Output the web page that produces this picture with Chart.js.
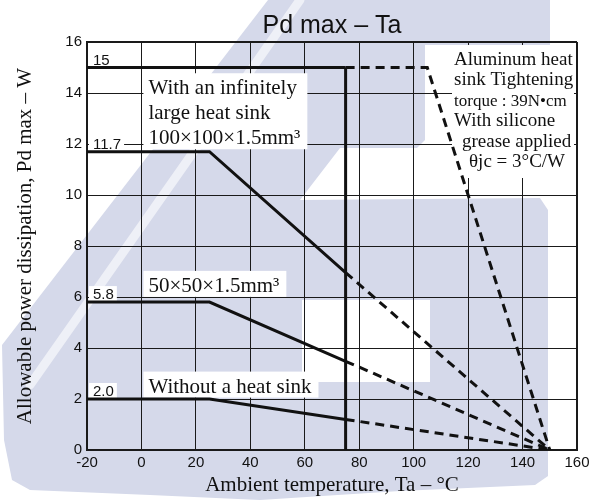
<!DOCTYPE html>
<html>
<head>
<meta charset="utf-8">
<title>Pd max – Ta</title>
<script src="https://cdn.jsdelivr.net/npm/chart.js@4.4.0/dist/chart.umd.min.js"></script>
<style>
  html, body { margin: 0; padding: 0; background: #fff; }
  canvas { display: block; }
</style>
</head>
<body>
<canvas id="chart" width="597" height="503"></canvas>
<script>
// Pd max vs ambient temperature
const chartTitle = "Pd max – Ta";
const xTicks = [-20, 0, 20, 40, 60, 80, 100, 120, 140, 160];
const yTicks = [0, 2, 4, 6, 8, 10, 12, 14, 16];

// knee, case limit and zero point shared by the finite heat sink curves
const curveTemps = [-20, 25, 75, 150];
const sink100Pd = [11.7, 11.7, 6.96, 0];
const sink50Pd = [5.8, 5.8, 3.48, 0];
const noSinkPd = [2.0, 2.0, 1.2, 0];

const infiniteTemps = [-20, 75, 105, 150];
const infinitePd = [15, 15, 15, 0];

const caseLimitTemps = [75, 75];
const caseLimitPd = [0, 15];

const ratingValues = [15, 11.7, 5.8, 2.0];
const ratingText = ["15", "11.7", "5.8", "2.0"];

const curveNames = [
  ["With an infinitely", "large heat sink", "100×100×1.5mm³"],
  ["50×50×1.5mm³"],
  ["Without a heat sink"],
];
// cap-top of the first line of each name, in W
const curveNameTops = [14.5, 6.75, 2.8];

const conditionLines = [
  "Aluminum heat",
  "sink Tightening",
  "torque : 39N•cm",
  "With silicone",
  "grease applied",
  "θjc = 3°C/W",
];
const conditionIndent = [0, 0, 0, 0, 8, 15];

const INK = "#111";
const SANS = "'Liberation Sans', Arial, sans-serif";
const SERIF = "'Liberation Serif', 'Times New Roman', serif";

function curve(label, temps, pd, dashFrom) {

  return {
    label,
    data: temps.map((t, i) => ({ x: t, y: pd[i] })),
    borderColor: INK,
    borderWidth: 3,
    borderCapStyle: "butt",
    pointRadius: 0,
    tension: 0,
    fill: false,
    segment: {
      borderDash: c => (c.p0DataIndex >= dashFrom ? [9, 6] : undefined),
    },
  };
}

// faint logo printed behind the graph, in 597x503 page units
const markOutline = [
  [268, 0], [550, 0], [550, 45], [425, 45], [425, 140], [417, 148], [340, 148],
  [300, 200], [540, 198], [548, 210], [548, 476], [535, 485], [400, 491],
  [260, 500], [150, 495], [30, 490], [12, 480], [4, 440], [2, 345],
];

const watermark = {
  id: "watermark",
  beforeDraw(chart) {

    const { ctx, width, height } = chart;
    const sx = width / 597;
    const sy = height / 503;
    ctx.save();
    ctx.fillStyle = "#fff";
    ctx.fillRect(0, 0, width, height);

    ctx.fillStyle = "#d5d9ea";
    ctx.beginPath();
    markOutline.forEach(([px, py], i) => {
      if (i === 0) ctx.moveTo(px * sx, py * sy);
      else ctx.lineTo(px * sx, py * sy);
    });
    ctx.closePath();
    ctx.fill();

    ctx.fillStyle = "#fff";
    ctx.fillRect(302 * sx, 300 * sy, 128 * sx, 82 * sy);

    ctx.strokeStyle = "rgba(255, 255, 255, 0.6)";
    ctx.lineWidth = 9;
    ctx.lineCap = "round";
    ctx.beginPath();
    ctx.moveTo(30 * sx, 385 * sy);
    ctx.lineTo(300 * sx, 0);
    ctx.stroke();
    ctx.restore();
  },
};

// title centred over the plot rather than the whole canvas
const plotTitle = {
  id: "plotTitle",
  afterDraw(chart) {

    const { ctx, chartArea } = chart;
    ctx.save();
    ctx.font = `25px ${SANS}`;
    ctx.fillStyle = INK;
    ctx.textAlign = "center";
    ctx.textBaseline = "alphabetic";
    ctx.fillText(chartTitle, (chartArea.left + chartArea.right) / 2, 33);
    ctx.restore();
  },
};

const notes = {
  id: "notes",
  beforeDatasetsDraw(chart) {

    const { ctx, chartArea, scales: { x, y } } = chart;
    ctx.save();
    ctx.textBaseline = "alphabetic";

    // rated Pd written just above each curve at the left edge
    ctx.font = `15px ${SANS}`;
    ctx.textAlign = "left";
    ratingValues.forEach((v, i) => {
      const left = x.getPixelForValue(-20) + 2;
      const base = y.getPixelForValue(v) - 3;
      const w = ctx.measureText(ratingText[i]).width;
      ctx.fillStyle = "#fff";
      ctx.fillRect(left, base - 13, w + 7, 15);
      ctx.fillStyle = INK;
      ctx.fillText(ratingText[i], left + 4, base);
    });

    // curve names in white boxes
    ctx.font = `21px ${SERIF}`;
    curveNames.forEach((lines, i) => {
      const left = x.getPixelForValue(0) + 2;
      const capTop = y.getPixelForValue(curveNameTops[i]);
      const w = Math.max(...lines.map(l => ctx.measureText(l).width));
      const lastBase = capTop + 14 + (lines.length - 1) * 25;
      ctx.fillStyle = "#fff";
      ctx.fillRect(left, capTop - 7, w + 12, lastBase + 5 - (capTop - 7));
      ctx.fillStyle = INK;
      lines.forEach((l, j) => ctx.fillText(l, left + 5, capTop + 14 + j * 25));
    });

    // mounting conditions box, top right
    const boxW = 122;
    const boxLeft = chartArea.right - boxW - 3;
    const boxTop = chartArea.top + 3;
    ctx.fillStyle = "#fff";
    ctx.fillRect(boxLeft, boxTop, boxW, 133);
    ctx.fillStyle = INK;
    ctx.textAlign = "left";
    conditionLines.forEach((l, j) => {
      ctx.font = j === 2 ? `17px ${SERIF}` : `19px ${SERIF}`;
      ctx.fillText(l, boxLeft + 2 + conditionIndent[j], boxTop + 20 + j * 20.4);
    });
    ctx.restore();
  },
};

const gridOpts = edges => ({
  color: "#1a1a1a",
  lineWidth: c => (edges.includes(c.tick?.value) ? 2 : 1),
  drawTicks: false,
});

new Chart(document.getElementById("chart"), {
  type: "line",
  data: {
    datasets: [
      curve("With an infinitely large heat sink", infiniteTemps, infinitePd, 1),
      curve("Case temperature limit", caseLimitTemps, caseLimitPd, 99),
      curve("100×100×1.5mm³", curveTemps, sink100Pd, 2),
      curve("50×50×1.5mm³", curveTemps, sink50Pd, 2),
      curve("Without a heat sink", curveTemps, noSinkPd, 2),
    ],
  },
  options: {
    responsive: false,
    animation: false,
    devicePixelRatio: 1,
    layout: { padding: { left: 0, right: 20, top: 42, bottom: 0 } },
    plugins: {
      legend: { display: false },
      tooltip: { enabled: false },
      title: { display: false },
    },
    scales: {
      x: {
        type: "linear",
        min: -20,
        max: 160,
        afterBuildTicks: s => { s.ticks = xTicks.map(v => ({ value: v })); },
        afterFit: s => { s.height = 53; },
        grid: gridOpts([-20, 160]),
        border: { color: "#1a1a1a", width: 2 },
        ticks: { color: INK, font: { family: SANS, size: 15 }, padding: 4, maxRotation: 0, autoSkip: false },
        title: {
          display: true,
          text: "Ambient temperature, Ta – °C",
          color: INK,
          font: { family: SERIF, size: 21 },
          padding: { top: 0, bottom: 5 },
        },
      },
      y: {
        type: "linear",
        min: 0,
        max: 16,
        afterBuildTicks: s => { s.ticks = yTicks.map(v => ({ value: v })); },
        afterFit: s => { s.width = 87; },
        grid: gridOpts([0, 16]),
        border: { color: "#1a1a1a", width: 2 },
        ticks: { color: INK, font: { family: SANS, size: 15 }, padding: 5, autoSkip: false },
        title: {
          display: true,
          text: "Allowable power dissipation, Pd max – W",
          color: INK,
          font: { family: SERIF, size: 21 },
          padding: { top: 13, bottom: 0 },
        },
      },
    },
  },
  plugins: [watermark, notes, plotTitle],
});
</script>
</body>
</html>
